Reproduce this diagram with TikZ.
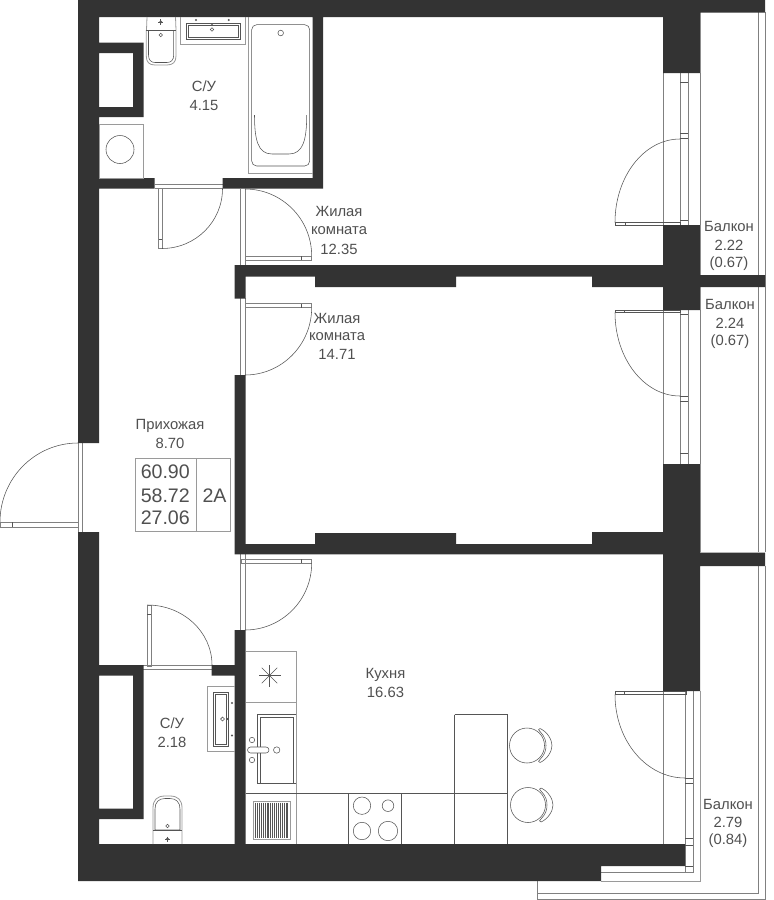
\documentclass[tikz,border=0pt]{standalone}
\usepackage{fontspec}
\setmainfont{Liberation Sans}
\usetikzlibrary{calc}
\definecolor{wallc}{HTML}{333333}
\definecolor{textc}{HTML}{505050}
\definecolor{linec}{HTML}{555555}
\definecolor{framec}{HTML}{808080}
\definecolor{lightc}{HTML}{9A9A9A}
\tikzset{
  wallfill/.style={fill=wallc,draw=none},
  thinl/.style={draw=linec,line width=0.55pt},
  framel/.style={draw=framec,line width=0.8pt},
  greyl/.style={draw=lightc,line width=0.8pt},
  railing/.style={draw=framec,line width=0.8pt},
  lab/.style={text=textc,font=\fontsize{14.8}{16}\selectfont,inner sep=0pt,anchor=center},
  big/.style={text=textc,font=\fontsize{19.6}{21}\selectfont,inner sep=0pt},
}
\newcommand\doorarc[3]{\draw[thinl] (#1) .. controls ($(#1)!0.5523!(#3)$) and ($(#2)!0.5523!(#3)$) .. (#2);}
\newcommand\chair[2]{%
  \draw[thinl] (#1,#2) circle[radius=17.5];
  \draw[thinl,line join=round] ($(#1,#2)+(13,-17)$) .. controls ($(#1,#2)+(20,-14)$) and ($(#1,#2)+(25,-6)$) .. ($(#1,#2)+(25,0)$)
     .. controls ($(#1,#2)+(25,6)$) and ($(#1,#2)+(20,14)$) .. ($(#1,#2)+(13,17)$)
     .. controls ($(#1,#2)+(11,17)$) and ($(#1,#2)+(11,15)$) .. ($(#1,#2)+(13,14)$)
     .. controls ($(#1,#2)+(18,9)$) and ($(#1,#2)+(19,4)$) .. ($(#1,#2)+(19,0)$)
     .. controls ($(#1,#2)+(19,-4)$) and ($(#1,#2)+(18,-9)$) .. ($(#1,#2)+(13,-14)$)
     .. controls ($(#1,#2)+(11,-15)$) and ($(#1,#2)+(11,-17)$) .. ($(#1,#2)+(13,-17)$) -- cycle;}
\begin{document}
\begin{tikzpicture}[x=1pt,y=-1pt]
\useasboundingbox[fill=white] (0,0) rectangle (774,900);
% balcony rails
\draw[railing] (758,12) -- (758,552) (765,12) -- (765,552);
\draw[railing] (758.5,566) -- (758.5,893) -- (537,893);
\draw[railing] (765.5,566) -- (765.5,899) -- (537,899) -- (537,881);
\draw[greyl] (700,691) -- (700,881) -- (601,881);
\draw[greyl] (700,12) -- (700,73) (700,225) -- (700,310) (700,464) -- (700,552);
% windows
\foreach \a/\b in {73/225,310/464}{
  \draw[framel] (663,\a) -- (663,\b) (700,\a) -- (700,\b);
  \draw[framel] (680,\a) -- (680,\b) (688,\a) -- (688,\b);
}
\draw[thinl] (680,82) -- (688,82) (680,133.5) -- (688,133.5) (680,138.5) -- (688,138.5) (680,220.5) -- (688,220.5);
\draw[thinl] (680,314) -- (688,314) (680,396) -- (688,396) (680,401) -- (688,401) (680,453) -- (688,453);
\draw[framel] (663,691) -- (663,844);
\draw[framel] (685,691) -- (685,872.5) -- (601,872.5) (693,691) -- (693,872.5) -- (685,872.5);
\draw[thinl] (685,778) -- (693,778) (685,783) -- (693,783) (685,838) -- (693,838) (685,845) -- (693,845) (685,866) -- (693,866);
% door leaves
\draw[thinl] (615,222.5) rectangle (680,225) (625,222.5) -- (625,225);
\draw[thinl] (615,310) rectangle (680,312.5) (624.5,310) -- (624.5,312.5);
\draw[thinl] (615,691) rectangle (686,694.5) (624.5,691) -- (624.5,694.5);
\coordinate (d1a) at (680,139); \coordinate (d1b) at (615,222.5); \coordinate (d1c) at (615,139);
\doorarc{d1a}{d1b}{d1c}
\coordinate (d2a) at (680,396); \coordinate (d2b) at (615,312.5); \coordinate (d2c) at (615,396);
\doorarc{d2a}{d2b}{d2c}
\coordinate (d3a) at (685,778); \coordinate (d3b) at (615,694.5); \coordinate (d3c) at (615,778);
\doorarc{d3a}{d3b}{d3c}
% entry door
\draw[framel] (78,443) -- (78,532) (82.3,443) -- (82.3,532);
\draw[framel] (0,522) rectangle (78,527);
\draw[thinl] (12.5,522) -- (12.5,527);
\coordinate (e1) at (78,443); \coordinate (e2) at (0,522); \coordinate (e3) at (0,443);
\doorarc{e1}{e2}{e3}
% top bathroom door
\draw[framel] (154.5,184.5) -- (223,184.5) (154.5,188.7) -- (223,188.7);
\draw[framel] (158.5,188.7) rectangle (162,248.5);
\draw[thinl] (158.5,239.5) -- (162,239.5);
\coordinate (b1) at (162,248.5); \coordinate (b2) at (222.5,188.7); \coordinate (b3) at (222.5,248.5);
\doorarc{b1}{b2}{b3}
% room 1 door
\draw[framel] (240.8,189) -- (240.8,265) (245,189) -- (245,265);
\draw[framel] (245,256) rectangle (311.7,260);
\draw[thinl] (301,256) -- (301,260);
\coordinate (r1) at (245,189); \coordinate (r2) at (311.7,256); \coordinate (r3) at (311.7,189);
\doorarc{r1}{r2}{r3}
% room 2 door
\draw[framel] (240.8,298) -- (240.8,375) (245,298) -- (245,375);
\draw[framel] (245,303.5) rectangle (311.7,307.5);
\draw[thinl] (301,303.5) -- (301,307.5);
\coordinate (s1) at (245,375); \coordinate (s2) at (311.7,307.5); \coordinate (s3) at (311.7,375);
\doorarc{s1}{s2}{s3}
% kitchen door
\draw[framel] (240.8,554) -- (240.8,630) (245,554) -- (245,630);
\draw[framel] (241,559) rectangle (311.7,563);
\draw[thinl] (301,559) -- (301,563);
\coordinate (k1) at (245,630); \coordinate (k2) at (311.7,563); \coordinate (k3) at (311.7,630);
\doorarc{k1}{k2}{k3}
% small bathroom door
\draw[framel] (143,665) -- (212,665) (143,669) -- (212,669);
\draw[framel] (147.3,605) rectangle (151,666);
\draw[thinl] (147.3,614) -- (151,614);
\coordinate (t1) at (147.3,605); \coordinate (t2) at (212,665); \coordinate (t3) at (212,605);
\doorarc{t1}{t2}{t3}
% walls
\path[wallfill]
  (78,0) rectangle (765,12.5)
  (78,12) rectangle (700,17)
  (78,0) rectangle (99,443)
  (78,532) rectangle (99,881)
  (99,42.5) rectangle (143.5,53)
  (133,42.5) rectangle (143.5,117)
  (99,107) rectangle (143.5,117)
  (78,178) rectangle (154.5,188.7)
  (222.7,178) rectangle (323,188.7)
  (312.7,17) rectangle (323,188.7)
  (663,0) rectangle (700,73)
  (663,225) rectangle (700,310)
  (234.7,265) rectangle (663,276.7)
  (234.7,265) rectangle (245.5,298.5)
  (315,276) rectangle (456,287)
  (592,275) rectangle (765,287)
  (234.7,375) rectangle (245.5,554.3)
  (234.7,544) rectangle (700,554.3)
  (315,533) rectangle (456,544.5)
  (592,532) rectangle (663.5,544.5)
  (663,464) rectangle (700,691)
  (700,552.6) rectangle (765,566)
  (234.7,630) rectangle (245.5,845)
  (78,665) rectangle (143.5,675.5)
  (211.7,665) rectangle (245.5,675.5)
  (133,665) rectangle (143.5,819)
  (99,808.5) rectangle (143.5,819)
  (78,844) rectangle (601,881)
  (601,844) rectangle (685,866);
% upper bathroom fixtures
\draw[greyl] (99.5,124) rectangle (143.5,178);
\draw[thinl] (120,149.5) circle[radius=14];
\draw[greyl] (147,17) -- (146.5,30) (175.5,17) -- (176,30);
\draw[greyl] (146.3,30) -- (146.3,56) .. controls (146.3,62) and (149,65) .. (155,65) -- (167,65) .. controls (173,65) and (176,62) .. (176,56) -- (176,30);
\draw[thinl] (146.3,30) -- (176,30);
\draw[thinl] (148.5,30) -- (148.5,55) .. controls (148.5,60) and (151,62.5) .. (155,62.5) -- (167,62.5) .. controls (171,62.5) and (173.7,60) .. (173.7,55) -- (173.7,30);
\fill[linec] (160.7,22) circle[radius=1.6];
\draw[thinl] (158,22) -- (163.4,22) (160.7,19.3) -- (160.7,24.7);
\draw[thinl] (160.7,35) circle[radius=1.7];
\draw[greyl] (180,17) -- (180,44) -- (245,44) -- (245,17);
\draw[thinl] (186,23.5) rectangle (240,39.5);
\draw[thinl] (188,25.5) rectangle (238,37.5);
\fill[linec] (196,20) circle[radius=1.1] (228.7,20) circle[radius=1.1] (212,25) circle[radius=1.1];
\draw[thinl] (212,29.5) circle[radius=1.8];
% bath
\draw[greyl] (248.3,17) -- (248.3,173.5) -- (312.7,173.5);
\draw[thinl,rounded corners=5pt] (251.7,24.7) rectangle (309.7,166);
\draw[thinl] (254.5,115) .. controls (254.5,140) and (258,154) .. (272,154) -- (289,154) .. controls (303,154) and (306.7,140) .. (306.7,115);
\draw[thinl] (280.7,33) circle[radius=2.8];
% lower bathroom fixtures
\draw[greyl] (234.7,686) -- (207.7,686) -- (207.7,751.5) -- (234.7,751.5);
\draw[thinl] (213.3,692) rectangle (228.5,746);
\draw[thinl] (215.5,694) rectangle (226.5,744);
\fill[linec] (232,703) circle[radius=1.1] (232,735.5) circle[radius=1.1] (227.5,719) circle[radius=1.1];
\draw[thinl] (222.5,719) circle[radius=1.9];
\draw[greyl] (153,844) -- (153,808) .. controls (153,800) and (157,796) .. (165,796) -- (170,796) .. controls (178,796) and (182,800) .. (182,808) -- (182,844);
\draw[thinl] (155,830) -- (155,809) .. controls (155,802) and (159,798.5) .. (165,798.5) -- (170,798.5) .. controls (176,798.5) and (180,802) .. (180,809) -- (180,830) -- cycle;
\draw[thinl] (153,830) -- (182,830);
\fill[linec] (167.5,839) circle[radius=1.6];
\draw[thinl] (165,839) -- (170,839) (167.5,836.5) -- (167.5,841.5);
\draw[thinl] (167.5,826) circle[radius=1.8];
% kitchen
\draw[greyl] (245.5,651) -- (296,651) -- (296,844);
\draw[greyl] (245.5,702.5) -- (296,702.5);
\draw[thinl] (245.5,793) -- (507.7,793);
\draw[thinl] (348,793) -- (348,844) (401.5,793) -- (401.5,844) (454.5,714.5) -- (454.5,844) (507.7,714.5) -- (507.7,844) (454.5,714.5) -- (507.7,714.5);
\foreach \r in {0,45,...,315}{\draw[thinl] (269.5,675.5) -- ++(\r:11);}
\fill[linec] (269.5,675.5) circle[radius=1.5];
\draw[thinl] (296,714.7) -- (257.5,714.7) -- (257.5,783.5) -- (296,783.5);
\draw[thinl] (260.5,783) -- (260.5,717.5) -- (293.5,717.5) -- (293.5,783);
\fill[white] (247.5,747) rectangle (269,753);
\draw[thinl,rounded corners=3pt] (247.5,747) rectangle (269,753);
\draw[thinl] (252,740) circle[radius=2.7] (252,760) circle[radius=2.7] (276.7,750) circle[radius=3.2];
\draw[greyl] (253.5,801) rectangle (290,839);
\foreach \i in {0,...,17}{\draw[draw=linec,line width=0.7pt] ({255.5+\i*1.9},802.5) -- ({255.5+\i*1.9},837.5);}
\draw[thinl] (362,805.7) circle[radius=8.7] (388,805.7) circle[radius=5.8] (362,831) circle[radius=8.7] (388,831) circle[radius=9.7];
\chair{527}{745.5}
\chair{528}{805}
% info box
\draw[greyl] (135,458) rectangle (230,531.5) (196.5,458) -- (196.5,531.5);
% labels
\node[lab] (su1a) at (204,86) {С/У};
\node[lab] (su1b) at (204,105) {4.15};
\node[lab] (r1a) at (339,211.5) {Жилая};
\node[lab] (r1b) at (339,231) {комната};
\node[lab] (r1c) at (339,249) {12.35};
\node[lab] (r2a) at (337,318) {Жилая};
\node[lab] (r2b) at (337,337) {комната};
\node[lab] (r2c) at (337,354.5) {14.71};
\node[lab] (b1a) at (729,226.5) {Балкон};
\node[lab] (b1b) at (729,245) {2.22};
\node[lab] (b1c) at (729,264) {(0.67)};
\node[lab] (b2a) at (730,304.5) {Балкон};
\node[lab] (b2b) at (730,323) {2.24};
\node[lab] (b2c) at (730,342) {(0.67)};
\node[lab] (b3a) at (728,804) {Балкон};
\node[lab] (b3b) at (728,822) {2.79};
\node[lab] (b3c) at (728,841) {(0.84)};
\node[lab] (h1) at (170,425.5) {Прихожая};
\node[lab] (h2) at (170,443) {8.70};
\node[big,anchor=east] (n1) at (190,472) {60.90};
\node[big,anchor=east] (n2) at (190,496) {58.72};
\node[big,anchor=east] (n3) at (190,518) {27.06};
\node[big] (n4) at (214.5,496) {2A};
\node[lab] (k1t) at (385.5,674.5) {Кухня};
\node[lab] (k2t) at (385.5,692) {16.63};
\node[lab] (su2a) at (172,723.5) {С/У};
\node[lab] (su2b) at (172,742) {2.18};
\end{tikzpicture}
\end{document}
